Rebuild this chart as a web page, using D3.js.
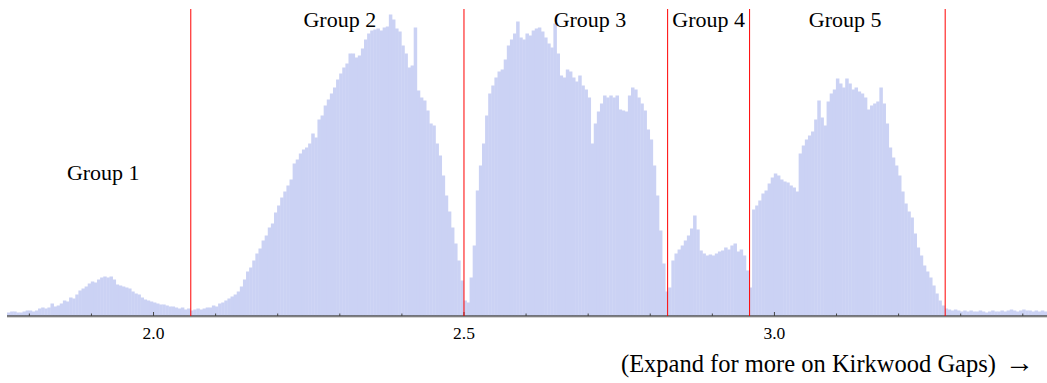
<!DOCTYPE html>
<html>
<head>
<meta charset="utf-8">
<script src="https://cdn.jsdelivr.net/npm/d3@7"></script>
<style>
  html, body { margin: 0; padding: 0; background: #fff; }
  svg { display: block; }
  text { font-family: "Liberation Serif", "Times New Roman", serif; fill: #000; }
</style>
</head>
<body>
<div id="graph"></div>
<script>
// asteroid counts per semi-major axis bin (AU), bins of 0.005 starting at 1.764
var binStart = 1.764
var binWidth = 0.005
var counts = [
  3, 4, 4, 3, 3, 4, 5, 5, 4, 5,
  7, 8, 7, 8, 12, 9, 10, 12, 15, 14,
  18, 17, 21, 25, 27, 29, 32, 34, 33, 36,
  38, 39, 38, 39, 36, 31, 30, 29, 28, 27,
  24, 22, 21, 18, 16, 15, 14, 13, 12, 11,
  11, 10, 9, 9, 8, 7, 8, 6, 7, 5,
  6, 7, 6, 7, 8, 8, 10, 9, 12, 13,
  15, 17, 19, 21, 24, 29, 36, 44, 48, 55,
  62, 67, 75, 80, 88, 92, 103, 110, 118, 124,
  130, 136, 152, 156, 162, 166, 168, 172, 182, 178,
  196, 200, 210, 216, 222, 228, 236, 242, 248, 252,
  262, 262, 258, 260, 267, 276, 282, 285, 286, 287,
  285, 288, 289, 301, 296, 287, 284, 270, 262, 248,
  250, 288, 225, 218, 215, 205, 192, 190, 172, 160,
  140, 120, 104, 88, 72, 55, 35, 15, 13, 38,
  70, 125, 150, 172, 200, 222, 230, 238, 244, 246,
  256, 270, 276, 282, 294, 278, 276, 282, 280, 285,
  287, 288, 284, 278, 272, 268, 292, 262, 240, 238,
  246, 244, 238, 234, 240, 230, 226, 218, 172, 192,
  204, 212, 220, 218, 220, 218, 220, 206, 205, 204,
  220, 228, 226, 218, 212, 205, 186, 176, 150, 120,
  85, 52, 24, 28, 55, 62, 66, 70, 75, 80,
  87, 100, 86, 65, 62, 60, 61, 60, 62, 64,
  65, 68, 66, 70, 72, 64, 66, 60, 45, 28,
  106, 110, 115, 122, 125, 132, 138, 142, 140, 136,
  134, 133, 130, 128, 124, 162, 170, 176, 180, 184,
  196, 215, 198, 190, 214, 222, 226, 237, 232, 228,
  237, 232, 226, 228, 224, 222, 218, 206, 210, 212,
  214, 228, 212, 192, 168, 158, 150, 140, 124, 112,
  104, 98, 82, 68, 60, 50, 44, 38, 30, 22,
  15, 10, 7, 6, 5, 6, 5, 4, 5, 4,
  5, 4, 4, 5, 4, 3, 4, 5, 4, 4,
  5, 4, 5, 6, 5, 4, 5, 6, 5, 5,
  4, 5, 4, 5, 4
]

// Kirkwood gaps (AU)
var gaps = [2.06, 2.5, 2.828, 2.96, 3.275]
var gapTop = 306.5

// group labels
var groupNames = ["Group 1", "Group 2", "Group 3", "Group 4", "Group 5"]
var groupX = [1.919, 2.30, 2.703, 2.894, 3.114]
var groupY = [136, 289, 289, 289, 289]

var majorTicks = [2.0, 2.5, 3.0]
var minorTicks = [1.8, 1.9, 2.1, 2.2, 2.3, 2.4, 2.6, 2.7, 2.8, 2.9, 3.1, 3.2, 3.3, 3.4]

var width = 1047, height = 383

var svg = d3.select("#graph").append("svg")
    .attr("width", width)
    .attr("height", height)

var x = d3.scaleLinear().domain([1.764, 3.439]).range([7, 1047])
var y = d3.scaleLinear().domain([0, 300]).range([315.5, 15.5])

var bins = counts.map(function(c, i) {
    return { x0: binStart + i * binWidth, x1: binStart + (i + 1) * binWidth, n: c }
})

svg.append("g")
    .selectAll("rect")
    .data(bins)
    .enter()
    .append("rect")
    .attr("x", function(d) { return x(d.x0) })
    .attr("width", function(d) { return x(d.x1) - x(d.x0) + 0.4 })
    .attr("y", function(d) { return y(d.n) })
    .attr("height", function(d) { return y(0) - y(d.n) })
    .attr("fill", "#cbd2f4")

// axis
var axisY = 316
svg.append("line")
    .attr("x1", x.range()[0]).attr("x2", x.range()[1])
    .attr("y1", axisY + 1.5).attr("y2", axisY + 1.5)
    .attr("stroke", "#d4d4d4")
    .attr("stroke-width", 1)

svg.append("line")
    .attr("x1", x.range()[0]).attr("x2", x.range()[1])
    .attr("y1", axisY).attr("y2", axisY)
    .attr("stroke", "#000")
    .attr("stroke-width", 1.2)

svg.append("g")
    .selectAll("line")
    .data(minorTicks)
    .enter()
    .append("line")
    .attr("x1", function(d) { return x(d) }).attr("x2", function(d) { return x(d) })
    .attr("y1", axisY).attr("y2", axisY - 2.5)
    .attr("stroke", "#444")

svg.append("g")
    .selectAll("line")
    .data(majorTicks)
    .enter()
    .append("line")
    .attr("x1", function(d) { return x(d) }).attr("x2", function(d) { return x(d) })
    .attr("y1", axisY).attr("y2", axisY - 4)
    .attr("stroke", "#444")

svg.append("g")
    .selectAll("text")
    .data(majorTicks)
    .enter()
    .append("text")
    .attr("x", function(d) { return x(d) })
    .attr("y", 338.5)
    .attr("text-anchor", "middle")
    .style("font-size", "17.5px")
    .text(function(d) { return d3.format(".1f")(d) })

// gap lines
svg.append("g")
    .selectAll("line")
    .data(gaps)
    .enter()
    .append("line")
    .attr("x1", function(d) { return x(d) }).attr("x2", function(d) { return x(d) })
    .attr("y1", y(gapTop)).attr("y2", axisY)
    .attr("stroke", "#ff0000")
    .attr("stroke-width", 1)

svg.append("g")
    .selectAll("text")
    .data(groupNames)
    .enter()
    .append("text")
    .attr("x", function(d, i) { return x(groupX[i]) })
    .attr("y", function(d, i) { return y(groupY[i]) })
    .attr("text-anchor", "middle")
    .style("font-size", "22px")
    .text(function(d) { return d })

var note = svg.append("text")
    .attr("x", 621)
    .attr("y", 372)
    .style("font-size", "24.5px")
note.append("tspan").text("(Expand for more on Kirkwood Gaps)")
note.append("tspan")
    .attr("dx", 9)
    .style("font-size", "29px")
    .text("\u2192")
</script>
</body>
</html>
